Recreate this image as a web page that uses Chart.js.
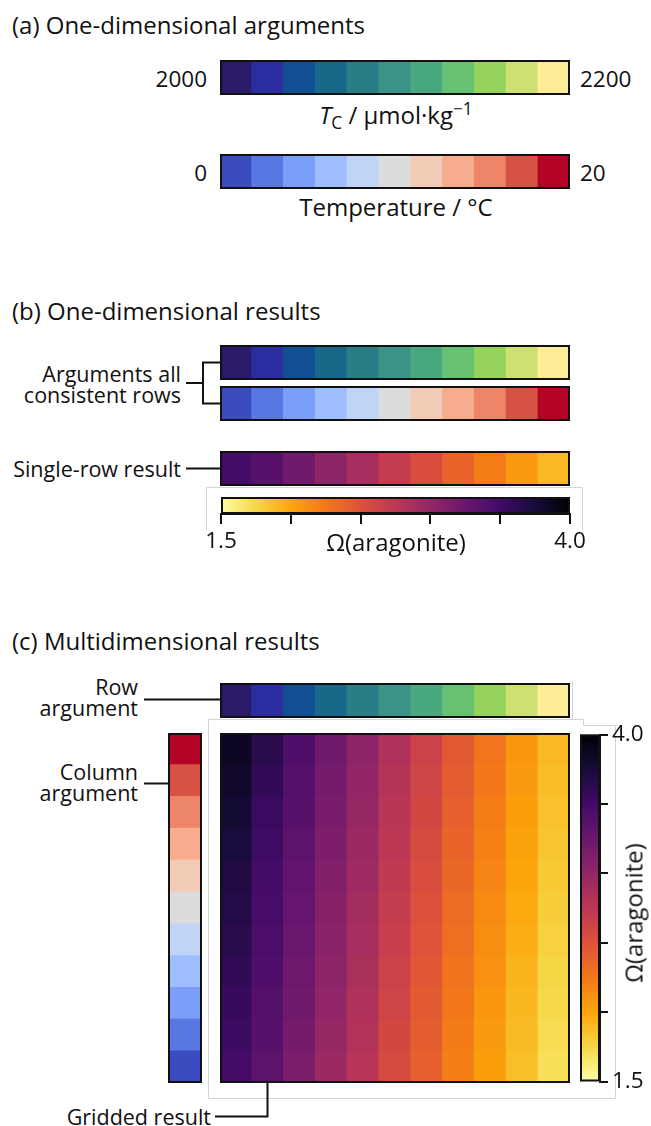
<!DOCTYPE html>
<html>
<head>
<meta charset="utf-8">
<script src="https://cdn.jsdelivr.net/npm/chart.js@4.4.1/dist/chart.umd.min.js"></script>
<style>
  body { margin: 0; background: #fff; font-family: "Open Sans", sans-serif; color: #111; }
  #page { position: relative; width: 651px; height: 1126px; overflow: hidden; }
  .box { position: absolute; }
  .txt { position: absolute; white-space: nowrap; line-height: 21px; }
  .sub { font-size: 0.72em; position: relative; top: 0.28em; }
  .sup { font-size: 0.72em; position: relative; top: -0.55em; }
  svg { position: absolute; left: 0; top: 0; }
</style>
</head>
<body>
<div id="page">
  <svg id="lines" width="651" height="1126"></svg>
</div>
<script>
// ---- data ----
const tcValues = [2000, 2020, 2040, 2060, 2080, 2100, 2120, 2140, 2160, 2180, 2200];   // µmol/kg
const temperatureValues = [0, 2, 4, 6, 8, 10, 12, 14, 16, 18, 20];                     // °C
const tcTickLabels = ['2000', '2200'];
const temperatureTickLabels = ['0', '20'];
const omegaRange = [1.5, 4.0];
const omegaTicks = [1.5, 2.0, 2.5, 3.0, 3.5, 4.0];
const omegaTickLabels = ['1.5', '4.0'];

// Ω(aragonite) for each (TC, temperature) pair taken in order
const omegaSingleRow = [3.49, 3.36, 3.21, 3.03, 2.88, 2.69, 2.54, 2.38, 2.22, 2.06, 1.90];

// Ω(aragonite) grid: one row per temperature (0 °C first), one value per TC
const omegaGrid = [
  [3.49, 3.33, 3.15, 2.95, 2.78, 2.56, 2.40, 2.21, 2.04, 1.87, 1.70],
  [3.53, 3.36, 3.18, 2.98, 2.81, 2.59, 2.42, 2.23, 2.06, 1.89, 1.72],
  [3.56, 3.39, 3.21, 3.01, 2.83, 2.62, 2.44, 2.26, 2.08, 1.91, 1.74],
  [3.60, 3.42, 3.23, 3.03, 2.86, 2.64, 2.46, 2.28, 2.11, 1.93, 1.76],
  [3.64, 3.44, 3.26, 3.06, 2.88, 2.67, 2.49, 2.31, 2.13, 1.96, 1.78],
  [3.68, 3.47, 3.28, 3.08, 2.90, 2.69, 2.51, 2.33, 2.15, 1.98, 1.80],
  [3.70, 3.49, 3.31, 3.11, 2.93, 2.72, 2.54, 2.35, 2.18, 2.00, 1.82],
  [3.73, 3.52, 3.33, 3.13, 2.95, 2.75, 2.56, 2.38, 2.20, 2.02, 1.84],
  [3.78, 3.55, 3.36, 3.16, 2.98, 2.77, 2.59, 2.40, 2.22, 2.04, 1.86],
  [3.81, 3.60, 3.39, 3.19, 3.00, 2.80, 2.61, 2.43, 2.25, 2.06, 1.88],
  [3.85, 3.64, 3.42, 3.22, 3.03, 2.83, 2.64, 2.45, 2.27, 2.08, 1.90]
];

// ---- colour maps ----
const halineStops = ['#2b1a6a', '#2a2da0', '#114f93', '#196889', '#2a7c85', '#3a9386',
                     '#4aa87e', '#66c170', '#96d35d', '#cfe073', '#fdec98'];
const coolwarmStops = ['#3b4cc0', '#5977e3', '#7b9ff9', '#9ebeff', '#c0d4f5', '#dddcdc',
                       '#f2cbb7', '#f7ac8e', '#ee8468', '#d65244', '#b40426'];
const infernoStops = ['#000004', '#160b39', '#420a68', '#6a176e', '#932667', '#bc3754',
                      '#dd513a', '#f37819', '#fca50a', '#f6d746', '#fcffa4'];

const hexToRgb = (h) => {
  const n = parseInt(h.slice(1), 16);
  return [(n >> 16) & 255, (n >> 8) & 255, n & 255];
};

const sampleMap = (stops, t) => {
  t = Math.max(0, Math.min(1, t));
  const p = t * (stops.length - 1);
  const i = Math.min(Math.floor(p), stops.length - 2);
  const f = p - i;
  const a = hexToRgb(stops[i]), b = hexToRgb(stops[i + 1]);
  const c = a.map((v, k) => Math.round(v + (b[k] - v) * f));
  return `rgb(${c[0]},${c[1]},${c[2]})`;
};

const tcColor = (v) => sampleMap(halineStops,
  (v - tcValues[0]) / (tcValues[tcValues.length - 1] - tcValues[0]));
const tempColor = (v) => sampleMap(coolwarmStops,
  (v - temperatureValues[0]) / (temperatureValues[temperatureValues.length - 1] - temperatureValues[0]));
// reversed inferno: low Ω is pale yellow, high Ω is black
const omegaColor = (v) => sampleMap(infernoStops, (omegaRange[1] - v) / (omegaRange[1] - omegaRange[0]));

// ---- page helpers ----
const page = document.getElementById('page');
const svg = document.getElementById('lines');
const FONT = '"Open Sans", sans-serif';
const TITLE_SIZE = 24, LABEL_SIZE = 24, TICK_SIZE = 22.5, NOTE_SIZE = 21.5;

const addBox = (left, top, width, height) => {
  const d = document.createElement('div');
  d.className = 'box';
  Object.assign(d.style, { left: left + 'px', top: top + 'px', width: width + 'px', height: height + 'px' });
  const c = document.createElement('canvas');
  d.appendChild(c);
  page.appendChild(d);
  return c;
};

const addText = (html, x, y, align, size) => {
  const d = document.createElement('div');
  d.className = 'txt';
  d.innerHTML = html;
  d.style.fontSize = size + 'px';
  d.style.top = y + 'px';
  if (align === 'right') {
    d.style.right = (651 - x) + 'px';
    d.style.textAlign = 'right';
    d.style.transform = 'translateY(-50%)';
  } else if (align === 'left') {
    d.style.left = x + 'px';
    d.style.transform = 'translateY(-50%)';
  } else if (align === 'rot') {
    d.style.left = x + 'px';
    d.style.transform = 'translate(-50%, -50%) rotate(-90deg)';
  } else {
    d.style.left = x + 'px';
    d.style.textAlign = 'center';
    d.style.transform = 'translate(-50%, -50%)';
  }
  page.appendChild(d);
};

const addPath = (d, color, width) => {
  const p = document.createElementNS('http://www.w3.org/2000/svg', 'path');
  p.setAttribute('d', d);
  p.setAttribute('fill', 'none');
  p.setAttribute('stroke', color);
  p.setAttribute('stroke-width', width);
  svg.appendChild(p);
};

// black frame round every image
const framePlugin = {
  id: 'frame',
  afterDatasetsDraw(chart) {
    const { ctx, chartArea: a } = chart;
    ctx.save();
    ctx.strokeStyle = '#111';
    ctx.lineWidth = 2;
    ctx.strokeRect(a.left + 1, a.top + 1, a.right - a.left - 2, a.bottom - a.top - 2);
    ctx.restore();
  }
};

const baseOptions = (extra) => Object.assign({
  responsive: true,
  maintainAspectRatio: false,
  animation: false,
  events: [],
  layout: { padding: 0, autoPadding: false },
  plugins: { legend: { display: false }, tooltip: { enabled: false } }
}, extra);

// one horizontal strip of 11 cells
const makeRowStrip = (canvas, values, colorFn) => new Chart(canvas, {
  type: 'bar',
  data: {
    labels: values,
    datasets: [{
      data: values.map(() => 1),
      backgroundColor: values.map(colorFn),
      borderWidth: 0,
      barPercentage: 1,
      categoryPercentage: 1,
      inflateAmount: 0.6
    }]
  },
  options: baseOptions({
    scales: { x: { display: false }, y: { display: false, min: 0, max: 1 } }
  }),
  plugins: [framePlugin]
});

const STRIP_L = 220, STRIP_W = 350, STRIP_H = 35;

// ---- (a) one-dimensional arguments ----
addText('(a) One-dimensional arguments', 12, 24, 'left', TITLE_SIZE);

makeRowStrip(addBox(STRIP_L, 60, STRIP_W, STRIP_H), tcValues, tcColor);
addText(tcTickLabels[0], 207, 78, 'right', TICK_SIZE);
addText(tcTickLabels[1], 580, 78, 'left', TICK_SIZE);
addText('<i>T</i><span class="sub">C</span> / µmol·kg<span class="sup">−1</span>', 396, 116, 'center', LABEL_SIZE);

makeRowStrip(addBox(STRIP_L, 154, STRIP_W, STRIP_H), temperatureValues, tempColor);
addText(temperatureTickLabels[0], 207, 172, 'right', TICK_SIZE);
addText(temperatureTickLabels[1], 580, 172, 'left', TICK_SIZE);
addText('Temperature / °C', 396, 206, 'center', LABEL_SIZE);

// ---- (b) one-dimensional results ----
addText('(b) One-dimensional results', 12, 310, 'left', TITLE_SIZE);

makeRowStrip(addBox(STRIP_L, 345, STRIP_W, STRIP_H), tcValues, tcColor);
makeRowStrip(addBox(STRIP_L, 386, STRIP_W, STRIP_H), temperatureValues, tempColor);
addText('Arguments all<br>consistent rows', 181, 384, 'right', NOTE_SIZE);
addPath('M220 362.5 H203 V403.5 H220 M203 383 H186', '#111', 2);

makeRowStrip(addBox(STRIP_L, 451, STRIP_W, STRIP_H), omegaSingleRow, omegaColor);
addText('Single-row result', 181, 468, 'right', NOTE_SIZE);
addPath('M186 468.5 H220', '#111', 2);

// gradient filling a floating bar that spans the whole Ω range
const omegaGradient = (horizontal) => (ctx) => {
  const a = ctx.chart.chartArea;
  if (!a) return '#000';
  const g = horizontal
    ? ctx.chart.ctx.createLinearGradient(a.left, 0, a.right, 0)
    : ctx.chart.ctx.createLinearGradient(0, a.bottom, 0, a.top);
  const n = 40;
  for (let i = 0; i <= n; i++) {
    const v = omegaRange[0] + (omegaRange[1] - omegaRange[0]) * i / n;
    g.addColorStop(i / n, omegaColor(v));
  }
  return g;
};

const omegaAxis = (position, fitSize) => ({
  type: 'linear',
  position: position,
  min: omegaRange[0],
  max: omegaRange[1],
  afterBuildTicks: (scale) => { scale.ticks = omegaTicks.map((v) => ({ value: v })); },
  afterFit: (scale) => {
    if (position === 'bottom') scale.height = fitSize; else scale.width = fitSize;
  },
  ticks: {
    autoSkip: false,
    maxRotation: 0,
    padding: 4,
    color: '#111',
    font: { family: FONT, size: TICK_SIZE },
    callback: (v) => (omegaTickLabels.includes(v.toFixed(1)) ? v.toFixed(1) : '')
  },
  grid: { drawOnChartArea: false, drawTicks: true, tickLength: position === 'bottom' ? 10 : 8, color: '#111', lineWidth: 2 },
  border: { display: true, color: '#111', width: 2 }
});

// horizontal colour bar under the single-row result
new Chart(addBox(200, 497, 392, 60), {
  type: 'bar',
  data: {
    labels: ['Ω'],
    datasets: [{
      data: [omegaRange],
      backgroundColor: omegaGradient(true),
      borderWidth: 0,
      barPercentage: 1,
      categoryPercentage: 1
    }]
  },
  options: baseOptions({
    indexAxis: 'y',
    layout: { padding: { left: 21, right: 22, top: 0, bottom: 0 }, autoPadding: false },
    scales: { y: { display: false }, x: omegaAxis('bottom', 43) }
  }),
  plugins: [framePlugin]
});
addText('Ω(aragonite)', 396, 541, 'center', LABEL_SIZE);

// ---- (c) multidimensional results ----
addText('(c) Multidimensional results', 12, 640, 'left', TITLE_SIZE);

makeRowStrip(addBox(STRIP_L, 683, STRIP_W, STRIP_H), tcValues, tcColor);
addText('Row<br>argument', 138, 697, 'right', NOTE_SIZE);
addPath('M144 699.5 H220', '#111', 2);

// column argument: temperature runs upward
const tempTopFirst = temperatureValues.slice().reverse();
new Chart(addBox(168, 733, 34, 350), {
  type: 'bar',
  data: {
    labels: tempTopFirst,
    datasets: [{
      data: tempTopFirst.map(() => 1),
      backgroundColor: tempTopFirst.map(tempColor),
      borderWidth: 0,
      barPercentage: 1,
      categoryPercentage: 1,
      inflateAmount: 0.6
    }]
  },
  options: baseOptions({
    indexAxis: 'y',
    scales: { y: { display: false }, x: { display: false, min: 0, max: 1 } }
  }),
  plugins: [framePlugin]
});
addText('Column<br>argument', 138, 782, 'right', NOTE_SIZE);
addPath('M144 783.5 H168', '#111', 2);

// faint axes outlines
addPath('M208.5 719.5 H583.5 V725.5 H615.5 V1098.5 H208.5 Z', '#d4d4d4', 1);
addPath('M572.5 681.5 V719.5', '#d4d4d4', 1);
addPath('M206.5 487.5 H582.5 V530.5 M206.5 487.5 V530.5', '#d4d4d4', 1);

// gridded result: stacked unit cells, one dataset per temperature
new Chart(addBox(STRIP_L, 733, STRIP_W, 350), {
  type: 'bar',
  data: {
    labels: tcValues,
    datasets: temperatureValues.map((t, i) => ({
      label: t + ' °C',
      data: tcValues.map(() => 1),
      backgroundColor: omegaGrid[i].map(omegaColor),
      borderWidth: 0,
      barPercentage: 1,
      categoryPercentage: 1,
      inflateAmount: 0.6
    }))
  },
  options: baseOptions({
    scales: {
      x: { display: false, stacked: true },
      y: { display: false, stacked: true, min: 0, max: temperatureValues.length }
    }
  }),
  plugins: [framePlugin]
});
addText('Gridded result', 211, 1116, 'right', NOTE_SIZE);
addPath('M215 1116.5 H267.5 V1082', '#111', 2);

// vertical colour bar beside the grid
new Chart(addBox(580, 717, 71, 382), {
  type: 'bar',
  data: {
    labels: ['Ω'],
    datasets: [{
      data: [omegaRange],
      backgroundColor: omegaGradient(false),
      borderWidth: 0,
      barPercentage: 1,
      categoryPercentage: 1
    }]
  },
  options: baseOptions({
    layout: { padding: { top: 16, bottom: 16, left: 0, right: 0 }, autoPadding: false },
    scales: { x: { display: false }, y: omegaAxis('right', 51) }
  }),
  plugins: [framePlugin]
});
addText('Ω(aragonite)', 633, 913, 'rot', LABEL_SIZE);
</script>
</body>
</html>
